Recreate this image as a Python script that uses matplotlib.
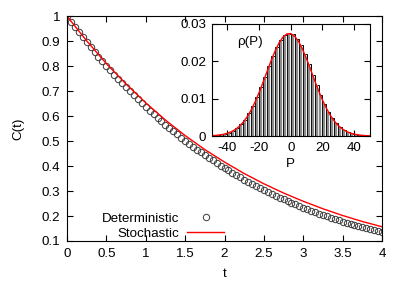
import numpy as np
import matplotlib
matplotlib.use('Agg')
import matplotlib.pyplot as plt

plt.rcParams['font.family'] = ['Liberation Sans', 'DejaVu Sans']
plt.rcParams['font.size'] = 9.6
plt.rcParams['axes.unicode_minus'] = False

# deterministic C(t), one point every 0.05 in t
t_det = [round(0.05 * k, 2) for k in range(81)]
c_det = [1.000, 0.978, 0.957, 0.937, 0.916, 0.896, 0.876, 0.857, 0.838, 0.820,
         0.801, 0.783, 0.766, 0.749, 0.732, 0.715, 0.699, 0.683, 0.667, 0.652,
         0.637, 0.622, 0.608, 0.593, 0.579, 0.566, 0.552, 0.539, 0.527, 0.514,
         0.502, 0.490, 0.478, 0.466, 0.455, 0.444, 0.433, 0.423, 0.412, 0.402,
         0.392, 0.383, 0.373, 0.364, 0.355, 0.346, 0.337, 0.329, 0.320, 0.312,
         0.304, 0.296, 0.289, 0.281, 0.274, 0.267, 0.260, 0.253, 0.247, 0.240,
         0.234, 0.228, 0.222, 0.216, 0.210, 0.204, 0.199, 0.194, 0.188, 0.183,
         0.178, 0.173, 0.169, 0.164, 0.160, 0.155, 0.151, 0.147, 0.143, 0.139,
         0.135]

# stochastic C(t)
t_sto = [0, 0.25, 0.5, 0.75, 1.0, 1.25, 1.5, 1.75, 2.0, 2.25, 2.5, 2.75,
         3.0, 3.25, 3.5, 3.75, 4.0]
c_sto = [1.000, 0.901, 0.810, 0.728, 0.653, 0.584, 0.522, 0.466, 0.416,
         0.370, 0.329, 0.292, 0.259, 0.229, 0.202, 0.178, 0.157]

# histogram of P (inset)
p_bins = [-48.75 + 2.5 * k for k in range(40)]
rho_hist = [0.00012, 0.00021, 0.00036, 0.00058, 0.00093, 0.00143, 0.00215,
            0.00312, 0.00441, 0.00604, 0.00803, 0.01038, 0.0130, 0.0158,
            0.0187, 0.0214, 0.0238, 0.0258, 0.0270, 0.0272, 0.0272, 0.0261,
            0.0243, 0.0219, 0.0192, 0.0164, 0.01355, 0.01088, 0.00848,
            0.00641, 0.00470, 0.00335, 0.00232, 0.00156, 0.00101, 0.00064,
            0.00039, 0.00024, 0.00014, 0.00008]

# fitted gaussian (inset, red)
p_fit = [-50 + 2.5 * k for k in range(41)]
rho_fit = [0.000091, 0.000161, 0.000275, 0.000458, 0.000739, 0.00116, 0.00176,
           0.0026, 0.00372, 0.00518, 0.00699, 0.00916, 0.01166, 0.0144,
           0.01726, 0.0201, 0.0227, 0.02487, 0.02647, 0.02735, 0.02743,
           0.0267, 0.02525, 0.02316, 0.02062, 0.01783, 0.01495, 0.01218,
           0.00964, 0.0074, 0.00551, 0.00399, 0.0028, 0.00191, 0.00126,
           0.00081, 0.000505, 0.000305, 0.000179, 0.000102, 0.0000567]

fig = plt.figure(figsize=(4.07, 2.85), dpi=100)
ax = fig.add_axes([0.1646, 0.1544, 0.774, 0.789])

ax.plot(t_det, c_det, linestyle='none', marker='o', markersize=4.6,
        markerfacecolor='none', markeredgecolor='#3a3a3a', markeredgewidth=0.7,
        label='Deterministic')
ax.plot(t_sto, c_sto, color='red', lw=1.0, label='Stochastic')

ax.set_xlim(0, 4)
ax.set_ylim(0.1, 1)
ax.set_xticks(np.arange(0, 4.01, 0.5))
ax.set_xticklabels(['0', '0.5', '1', '1.5', '2', '2.5', '3', '3.5', '4'])
ax.set_yticks(np.arange(0.1, 1.01, 0.1))
ax.set_yticklabels(['0.1', '0.2', '0.3', '0.4', '0.5', '0.6', '0.7', '0.8', '0.9', '1'])
ax.tick_params(direction='in', top=True, right=True, length=4, width=0.8, pad=5)
ax.set_xlabel('t', labelpad=6)
ax.set_ylabel('C(t)', labelpad=12)

leg = ax.legend(loc='lower left', bbox_to_anchor=(0.08, -0.035), frameon=False,
                markerfirst=False, numpoints=1, handlelength=2.8,
                handletextpad=0.6, labelspacing=0.2, borderpad=0.2)

# inset
ins = fig.add_axes([0.520, 0.5228, 0.389, 0.393])
ins.bar(p_bins, rho_hist, width=2.5, facecolor='white', edgecolor='black', lw=0.7)
ins.vlines(p_bins, 0, rho_hist, color='#8c8c8c', lw=1.6)
ins.plot(p_fit, rho_fit, color='red', lw=1.0)
ins.set_xlim(-50, 50)
ins.set_ylim(0, 0.03)
ins.set_xticks([-40, -20, 0, 20, 40])
ins.set_yticks([0, 0.01, 0.02, 0.03])
ins.set_yticklabels(['0', '0.01', '0.02', '0.03'])
ins.tick_params(direction='in', top=True, right=True, length=4, width=0.8, pad=4)
ins.set_xlabel('P', labelpad=3)
ins.text(-34, 0.0252, 'ρ(P)', ha='left', va='center')

fig.savefig('out.png', dpi=100)
